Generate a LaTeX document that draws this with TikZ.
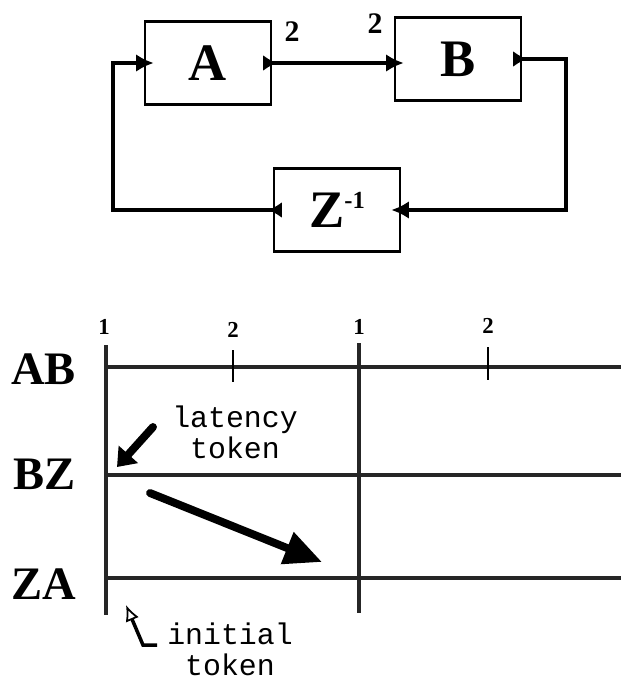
\documentclass[tikz,border=0pt]{standalone}
\usepackage{fontspec}
\setmainfont{Liberation Serif}
\setmonofont{Liberation Mono}
\usetikzlibrary{arrows.meta, positioning}
\tikzset{
  blk/.style = {rectangle, draw=black, line width=1.4pt, minimum width=2.52cm, minimum height=1.66cm, inner sep=0pt, font=\fontsize{30}{30}\selectfont\bfseries},
  wire/.style = {line width=2.5pt, {Latex[reversed,length=8pt,width=9pt]}-{Latex[length=10pt,width=10pt]}, shorten >=-0.2cm},
  rate/.style = {font=\fontsize{17}{17}\selectfont\bfseries},
  sig/.style = {anchor=east, font=\fontsize{26.5}{26.5}\selectfont\bfseries},
  trace/.style = {line width=2.2pt, black!85},
  cyc/.style = {line width=1.8pt, black!85},
  tick/.style = {line width=1.7pt},
  num/.style = {font=\fontsize{13}{13}\selectfont\bfseries},
  note/.style = {align=center, font=\fontsize{17}{17.6}\selectfont\ttfamily},
  fat/.style = {line width=4.5pt, line cap=round, -{Triangle[length=0.34cm,width=0.5cm]}}
}

\begin{document}
\begin{tikzpicture}[x=0.02cm, y=-0.02cm]
\useasboundingbox (0,0) rectangle (621,680);

% Actors
\node[blk] (A) at (208,63) {A};
\node[blk] (B) at (458,59) {B};
\node[blk] (Z) at (337,210) {Z\raisebox{0.35em}{\fontsize{14}{14}\selectfont -1}};

% Rates
\node[rate] (rA) at (292,32) {2};
\node[rate] (rB) at (375,24) {2};

% Loop corners
\coordinate (turnB) at (566,210);
\coordinate (turnZ) at (113,210);

% ----- ARCS -----
% A -> B
\draw[wire] ([xshift=-0.18cm]A.east) -- (A.east -| B.west);

% B -> Z
\draw[wire] ([xshift=-0.18cm]B.east) -| (turnB) -- (Z.east);

% Z -> A (back round the loop)
\draw[wire] ([xshift=0.18cm]Z.west) -- (turnZ) |- (A.west);

% ----- SCHEDULE -----
\node[sig] (rowAB) at (82,369) {AB};
\node[sig] (rowBZ) at (82,474) {BZ};
\node[sig] (rowZA) at (82,584) {ZA};

% Rows
\draw[trace] (106,367) -- (621,367);
\draw[trace] (106,475) -- (621,475);
\draw[trace] (106,578) -- (621,578);

% Cycle bounds
\draw[cyc] (106,345) -- (106,615);
\draw[cyc] (359,343) -- (359,613);

% Firings of B inside a cycle
\draw[tick] (233,350) -- (233,382);
\draw[tick] (488,347) -- (488,380);

\node[num] (c1) at (104,327) {1};
\node[num] (c2) at (233,330) {2};
\node[num] (c3) at (359,327) {1};
\node[num] (c4) at (488,326) {2};

% Notes
\node[note] (lat) at (235,432) {latency\\token};
\node[note] (ini) at (230,649) {initial\\token};

\coordinate (latFrom) at (153,427);
\coordinate (latTo) at (117,467);
\draw[fat] (latFrom) -- (latTo);

\coordinate (moveFrom) at (150,493);
\coordinate (moveTo) at (322,562);
\draw[fat, -{Triangle[length=0.75cm,width=0.65cm]}] (moveFrom) -- (moveTo);

\coordinate (iniFoot) at (157,645);
\coordinate (iniBend) at (143,645);
\coordinate (iniTo) at (126,605);
\draw[line width=2pt, -{Latex[open,length=0.32cm,width=0.28cm,line width=1pt]}] (iniFoot) -- (iniBend) -- (iniTo);

\end{tikzpicture}
\end{document}
